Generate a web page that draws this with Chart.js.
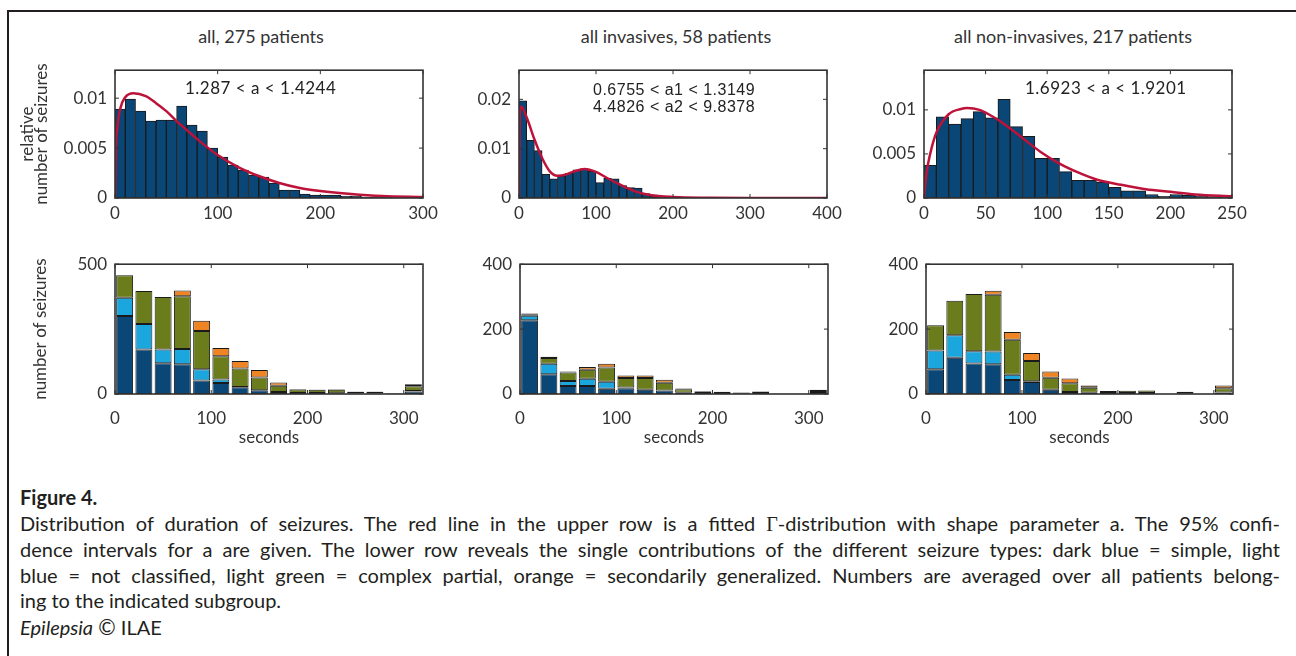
<!DOCTYPE html>
<html>
<head>
<meta charset="utf-8">
<script src="https://cdn.jsdelivr.net/npm/chart.js@4.4.1/dist/chart.umd.min.js"></script>
<style>
html, body { margin: 0; padding: 0; background: #fff; }
body { width: 1296px; height: 656px; position: relative; overflow: hidden; font-family: Lato, sans-serif; color: #333; }
#frame { position: absolute; left: 7px; top: 10px; right: 0; bottom: 0; border-top: 2px solid #231f20; border-left: 2px solid #231f20; }
canvas { position: absolute; }
.ttl { position: absolute; top: 26px; font-size: 18px; line-height: 20px; white-space: nowrap; transform: translateX(-50%); }
.ann { position: absolute; font-size: 17px; line-height: 20px; white-space: nowrap; color: #222; letter-spacing: 0.5px; }
.ann2 { font-family: "Liberation Sans", Arial, sans-serif; font-size: 16px; letter-spacing: 0.5px; }
#cap { position: absolute; left: 20px; top: 485px; width: 1260px; color: #231f20; font-size: 20px; line-height: 25.5px; }
#cap .j { white-space: nowrap; }
#cap b { font-size: 20px; }
</style>
</head>
<body>
<div id="frame"></div>

<div class="ttl" style="left:261px">all, 275 patients</div>
<div class="ttl" style="left:676px">all invasives, 58 patients</div>
<div class="ttl" style="left:1073px">all non-invasives, 217 patients</div>

<canvas id="c1"></canvas>
<canvas id="c2"></canvas>
<canvas id="c3"></canvas>
<canvas id="c4"></canvas>
<canvas id="c5"></canvas>
<canvas id="c6"></canvas>

<div class="ann" style="left:185px;top:78px">1.287 &lt; a &lt; 1.4244</div>
<div class="ann ann2" style="left:593px;top:80px">0.6755 &lt; a1 &lt; 1.3149</div>
<div class="ann ann2" style="left:593px;top:97px">4.4826 &lt; a2 &lt; 9.8378</div>
<div class="ann" style="left:1025px;top:78px">1.6923 &lt; a &lt; 1.9201</div>

<div id="cap">
  <div><b>Figure 4.</b></div>
  <div class="j"><span>Distribution of duration of seizures. The red line in the upper row is a fitted <span style="font-family:'Liberation Serif'">&Gamma;</span>-distribution with shape parameter a. The 95% confi-</span></div>
  <div class="j"><span>dence intervals for a are given. The lower row reveals the single contributions of the different seizure types: dark blue = simple, light</span></div>
  <div class="j"><span>blue = not classified, light green = complex partial, orange = secondarily generalized. Numbers are averaged over all patients belong-</span></div>
  <div>ing to the indicated subgroup.</div>
  <div><i>Epilepsia</i> <span style="font-size:21px">&copy;</span> ILAE</div>
</div>

<script>
// bin centres (seconds)
const centers10 = [5, 15, 25, 35, 45, 55, 65, 75, 85, 95, 105, 115, 125, 135, 145, 155, 165, 175, 185, 195,
                   205, 215, 225, 235, 245, 255, 265, 275, 285, 295];
const centers20 = [10, 30, 50, 70, 90, 110, 130, 150, 170, 190, 210, 230, 250, 270, 290, 310];

// upper row: relative number of seizures per 10 s bin
const histAll = [0.0089, 0.0099, 0.0087, 0.0077, 0.0078, 0.0078, 0.0092, 0.0073, 0.0067, 0.0050,
                 0.0041, 0.0033, 0.0028, 0.0023, 0.0021, 0.0015, 0.0008, 0.0008, 0.0004, 0.0003,
                 0.0003, 0.0003, 0.0002, 0.0002, 0.0001, 0.0001, 0.0001, 0, 0, 0];
const histInv = [0.0197, 0.0117, 0.0096, 0.0048, 0.0039, 0.0045, 0.0050, 0.0057, 0.0059, 0.0054,
                 0.0031, 0.0040, 0.0039, 0.0025, 0.0021, 0.0020, 0.0009, 0.0006, 0.0004, 0.0003,
                 0.0002, 0.0001, 0.0001];
const histNon = [0.0037, 0.0092, 0.0084, 0.0090, 0.0098, 0.0091, 0.0112, 0.0081, 0.0070, 0.0045,
                 0.0045, 0.0030, 0.0020, 0.0020, 0.0018, 0.0012, 0.0008, 0.0008, 0.0004, 0.0002,
                 0.0004, 0.0003, 0.0002, 0.00015, 0.00015];

// fitted Gamma curves
const fitAllX = [0, 1, 2, 5, 10, 18, 30, 40, 50, 60, 70, 80, 100, 120, 140, 160, 180, 200, 230, 260, 300];
const fitAllY = [0, 0.0054, 0.0068, 0.0089, 0.0101, 0.0105, 0.0102, 0.0095, 0.0087, 0.0077, 0.0068, 0.0059,
                 0.0043, 0.0031, 0.0022, 0.0015, 0.0010, 0.0007, 0.0004, 0.0002, 0.0001];
const fitInvX = [0, 1, 3, 10, 20, 30, 40, 50, 60, 70, 85, 100, 115, 130, 150, 170, 200, 250, 300, 400];
const fitInvY = [0, 0.0170, 0.0185, 0.0163, 0.0119, 0.0081, 0.0054, 0.0045, 0.0047, 0.0053, 0.0059, 0.0053,
                 0.0040, 0.0028, 0.0014, 0.0006, 0.0002, 0.00005, 0, 0];
const fitNonX = [0, 2, 5, 10, 20, 30, 35, 45, 55, 65, 80, 95, 110, 125, 140, 160, 180, 200, 220, 250];
const fitNonY = [0, 0.0028, 0.0050, 0.0074, 0.0095, 0.0101, 0.0102, 0.0100, 0.0093, 0.0084, 0.0068, 0.0052,
                 0.0039, 0.0029, 0.0021, 0.0015, 0.0010, 0.0007, 0.0004, 0.0002];

// lower row: number of seizures per 20 s bin, by seizure type
const simpleAll  = [300, 171, 118, 115, 52, 42, 26, 14, 8, 4, 4, 3, 2, 2, 0, 10];
const unclassAll = [71, 99, 53, 58, 43, 14, 1, 0, 0, 0, 0, 0, 0, 0, 0, 2];
const complexAll = [86, 127, 203, 204, 148, 89, 71, 50, 24, 13, 12, 13, 7, 7, 2, 18];
const secGenAll  = [0, 0, 0, 22, 39, 32, 29, 28, 12, 2, 1, 2, 1, 1, 0, 8];

const simpleInv  = [227, 61, 25, 25, 16, 18, 13, 11, 4, 3, 3, 2, 3, 0, 0, 6];
const unclassInv = [14, 32, 15, 22, 22, 2, 0, 0, 0, 0, 0, 0, 0, 0, 0, 0];
const complexInv = [5, 18, 26, 28, 44, 29, 36, 24, 11, 5, 4, 3, 5, 1, 1, 6];
const secGenInv  = [2, 4, 3, 8, 11, 8, 8, 9, 2, 1, 0, 0, 0, 0, 0, 1];

const simpleNon  = [76, 112, 94, 92, 43, 37, 13, 6, 4, 3, 3, 3, 0, 2, 0, 5];
const unclassNon = [58, 69, 38, 39, 16, 2, 0, 0, 0, 0, 0, 0, 0, 0, 0, 0];
const complexNon = [78, 106, 176, 175, 108, 63, 37, 27, 15, 6, 7, 8, 0, 5, 0, 13];
const secGenNon  = [0, 0, 0, 12, 24, 24, 19, 15, 7, 0, 0, 0, 0, 0, 0, 8];

// tick labels
const xTicks300 = [0, 100, 200, 300];
const xTicks400 = [0, 100, 200, 300, 400];
const xTicks250 = [0, 50, 100, 150, 200, 250];
const yTicksA = [0, 0.005, 0.01];
const yTicksB = [0, 0.01, 0.02];
const yTicks500 = [0, 500];
const yTicks400 = [0, 200, 400];

const DARK = '#0a4676', LIGHT = '#1ba6de', GREEN = '#6a7c1c', ORANGE = '#ee8424', RED = '#bd1239';
const EDGE = '#1a1a1a';
const FONT = 'Lato';

// MATLAB style box with inward ticks
const boxAxes = {
  id: 'boxAxes',
  afterDraw(chart) {
    const {ctx, chartArea: a, scales: {x, y}} = chart;
    ctx.save();
    ctx.strokeStyle = '#333';
    ctx.lineWidth = 1;
    ctx.beginPath();
    x.ticks.forEach(t => {
      const p = x.getPixelForValue(t.value);
      ctx.moveTo(p, a.bottom); ctx.lineTo(p, a.bottom - 4);
      ctx.moveTo(p, a.top); ctx.lineTo(p, a.top + 4);
    });
    y.ticks.forEach(t => {
      const p = y.getPixelForValue(t.value);
      ctx.moveTo(a.left, p); ctx.lineTo(a.left + 4, p);
      ctx.moveTo(a.right, p); ctx.lineTo(a.right - 4, p);
    });
    ctx.stroke();
    ctx.lineWidth = 1.6;
    ctx.strokeRect(a.left, a.top, a.right - a.left, a.bottom - a.top);
    ctx.restore();
  }
};

function xScale(max, ticks, height, pad, title) {
  return {
    type: 'linear', min: 0, max: max, offset: false, stacked: true,
    grid: { display: false, drawTicks: false },
    border: { display: false },
    afterBuildTicks: s => { s.ticks = ticks.map(v => ({ value: v })); },
    afterFit: s => { s.height = height; },
    ticks: { padding: pad, color: '#333', maxRotation: 0, autoSkip: false,
             font: { family: FONT, size: 17 }, callback: v => String(v) },
    title: title ? { display: true, text: title, color: '#333', font: { family: FONT, size: 17 },
                     padding: { top: 0, bottom: 6 } } : { display: false }
  };
}

function yScale(max, ticks, width, title, tpad, lh) {
  return {
    min: 0, max: max, stacked: true,
    grid: { display: false, drawTicks: false },
    border: { display: false },
    afterBuildTicks: s => { s.ticks = ticks.map(v => ({ value: v })); },
    afterFit: s => { s.width = width; },
    ticks: { padding: 8, color: '#333', font: { family: FONT, size: 17 }, callback: v => String(v) },
    title: title ? { display: true, text: title, color: '#333',
                     font: { family: FONT, size: 17, lineHeight: lh },
                     padding: { top: tpad, bottom: 0 } } : { display: false }
  };
}

function place(id, left, top, w, h) {
  const cv = document.getElementById(id);
  cv.width = w; cv.height = h;
  cv.style.left = left + 'px'; cv.style.top = top + 'px';
  cv.style.width = w + 'px'; cv.style.height = h + 'px';
  return cv;
}

const baseOpts = {
  responsive: false, animation: false, devicePixelRatio: 1,
  layout: { padding: { top: 8, right: 20, left: 0, bottom: 0 } },
  plugins: { legend: { display: false }, tooltip: { enabled: false } }
};

function histPanel(id, left, yw, plotW, hist, fx, fy, xmax, xt, ymax, yt, ytitle) {
  const cv = place(id, left, 52, yw + plotW + 20, 186);
  new Chart(cv, {
    type: 'bar',
    data: {
      datasets: [
        { type: 'line', data: fx.map((v, i) => ({ x: v, y: fy[i] })), borderColor: RED, borderWidth: 2.5,
          pointRadius: 0, cubicInterpolationMode: 'monotone', order: 0 },
        { type: 'bar', data: hist.map((v, i) => ({ x: centers10[i], y: v })), backgroundColor: DARK,
          borderColor: EDGE, borderWidth: 1, borderSkipped: false,
          barPercentage: 1, categoryPercentage: 1, order: 1 }
      ]
    },
    options: Object.assign({}, baseOpts, {
      scales: {
        x: Object.assign(xScale(xmax, xt, 40, 5, null), { stacked: false }),
        y: Object.assign(yScale(ymax, yt, yw, ytitle, 10, 0.85), { stacked: false })
      }
    }),
    plugins: [boxAxes]
  });
}

function typePanel(id, left, yw, plotW, simple, unclass, complex, secGen, ymax, yt, ytitle) {
  const cv = place(id, left, 246, yw + plotW + 20, 208);
  const mk = (vals, col) => ({
    data: vals.map((v, i) => ({ x: centers20[i], y: v })), backgroundColor: col,
    borderColor: EDGE, borderWidth: 1, borderSkipped: false, barPercentage: 0.88, categoryPercentage: 1
  });
  new Chart(cv, {
    type: 'bar',
    data: { datasets: [mk(simple, DARK), mk(unclass, LIGHT), mk(complex, GREEN), mk(secGen, ORANGE)] },
    options: Object.assign({}, baseOpts, {
      scales: {
        x: xScale(320, xTicks300, 60, 14, 'seconds'),
        y: yScale(ymax, yt, yw, ytitle, 20, 1.2)
      }
    }),
    plugins: [boxAxes]
  });
}

histPanel('c1', 10, 105, 308, histAll, fitAllX, fitAllY, 300, xTicks300, 0.0128, yTicksA,
          ['relative', 'number of seizures']);
histPanel('c2', 449, 70, 308, histInv, fitInvX, fitInvY, 400, xTicks400, 0.0259, yTicksB, null);
histPanel('c3', 854, 70, 308, histNon, fitNonX, fitNonY, 250, xTicks250, 0.0145, yTicksA, null);

typePanel('c4', 10, 105, 308, simpleAll, unclassAll, complexAll, secGenAll, 500, yTicks500, 'number of seizures');
typePanel('c5', 450, 70, 308, simpleInv, unclassInv, complexInv, secGenInv, 400, yTicks400, null);
typePanel('c6', 856, 70, 307, simpleNon, unclassNon, complexNon, secGenNon, 400, yTicks400, null);

// justify the full caption lines by spreading the word gaps
document.querySelectorAll('#cap .j').forEach(line => {
  const span = line.firstElementChild;
  const gaps = (span.textContent.match(/ /g) || []).length;
  const w = span.getBoundingClientRect().width;
  line.style.wordSpacing = ((1260 - w) / gaps) + 'px';
});
</script>
</body>
</html>
